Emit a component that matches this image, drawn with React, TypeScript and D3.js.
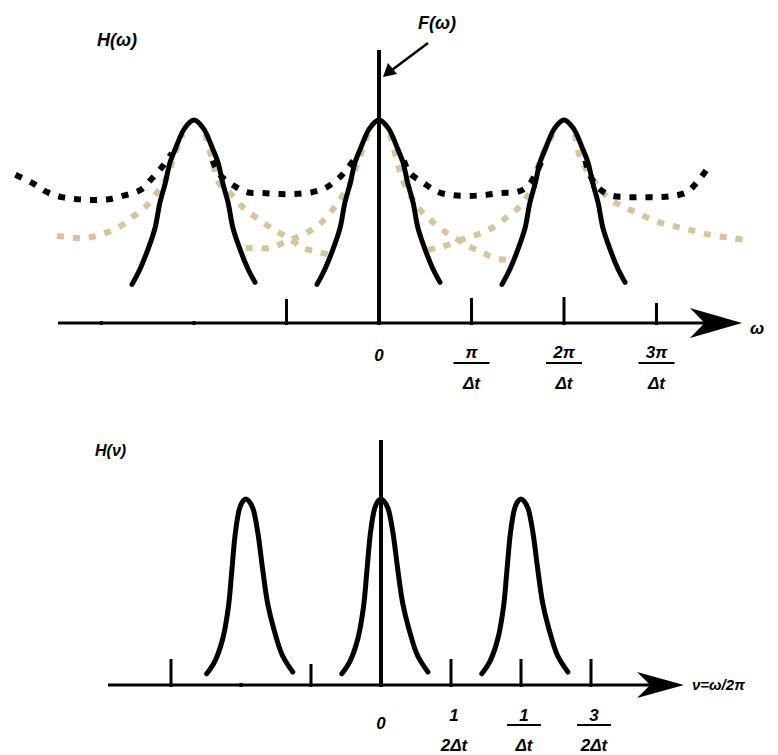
import React, { useRef, useEffect } from "react";
import * as d3 from "d3";

// ---- data ----
// top panel: x in units of pi/Δt, height relative to peak
const topTicks = [-3, -2, -1, 1, 2, 3];
const topTickLen = [2, 2, 24, 25, 26, 20];
const topPeakCenters = [-2, 0, 2];
const topPeakD = [-0.67, -0.58, -0.5, -0.42, -0.37, -0.31, -0.26, -0.2, -0.1, 0, 0.1, 0.2, 0.26, 0.31, 0.37, 0.42, 0.5, 0.58, 0.66];
const topPeakH = [0.19, 0.27, 0.36, 0.47, 0.59, 0.69, 0.79, 0.86, 0.96, 1, 0.96, 0.86, 0.79, 0.69, 0.59, 0.47, 0.36, 0.27, 0.2];

// black dotted (periodic sum), one array per piece between the peaks
const black1 = [[-3.93, 0.73], [-3.75, 0.69], [-3.59, 0.645], [-3.43, 0.62], [-3.26, 0.61], [-3.09, 0.606], [-2.92, 0.61], [-2.74, 0.63], [-2.58, 0.655], [-2.45, 0.714], [-2.33, 0.778], [-2.24, 0.837]];
const black2 = [[-1.8, 0.8], [-1.72, 0.73], [-1.58, 0.68], [-1.43, 0.645], [-1.25, 0.64], [-1.07, 0.635], [-0.91, 0.635], [-0.72, 0.645], [-0.58, 0.665], [-0.42, 0.72], [-0.31, 0.78], [-0.23, 0.83]];
const black3 = [[0.27, 0.8], [0.33, 0.74], [0.48, 0.69], [0.64, 0.645], [0.79, 0.63], [0.96, 0.626], [1.13, 0.63], [1.31, 0.64], [1.49, 0.645], [1.6, 0.67], [1.7, 0.74], [1.76, 0.8]];
const black4 = [[2.23, 0.8], [2.28, 0.73], [2.36, 0.67], [2.5, 0.63], [2.68, 0.62], [2.86, 0.62], [3.04, 0.62], [3.18, 0.626], [3.33, 0.645], [3.45, 0.7], [3.58, 0.78]];

// tan dotted (tails of single copies)
const tan1 = [[-3.48, 0.43], [-3.32, 0.42], [-3.15, 0.42], [-2.98, 0.44], [-2.82, 0.47], [-2.67, 0.52], [-2.53, 0.57], [-2.42, 0.63], [-2.33, 0.69], [-2.26, 0.76], [-2.2, 0.84], [-2.12, 0.93]];
const tan2 = [[-1.88, 0.93], [-1.8, 0.8], [-1.73, 0.69], [-1.61, 0.64], [-1.47, 0.57], [-1.3, 0.51], [-1.14, 0.46], [-0.98, 0.42], [-0.82, 0.37], [-0.66, 0.35], [-0.53, 0.335]];
const tan3 = [[-0.12, 0.93], [-0.23, 0.79], [-0.31, 0.69], [-0.42, 0.61], [-0.55, 0.53], [-0.69, 0.47], [-0.85, 0.43], [-1.01, 0.4], [-1.17, 0.37], [-1.36, 0.37], [-1.53, 0.37]];
const tan4 = [[0.12, 0.93], [0.2, 0.79], [0.26, 0.7], [0.35, 0.62], [0.44, 0.56], [0.55, 0.51], [0.68, 0.46], [0.82, 0.42], [0.96, 0.38], [1.11, 0.35], [1.25, 0.32], [1.42, 0.31]];
const tan5 = [[1.88, 0.93], [1.74, 0.8], [1.67, 0.69], [1.6, 0.62], [1.49, 0.56], [1.38, 0.52], [1.23, 0.47], [1.09, 0.44], [0.95, 0.42], [0.78, 0.39], [0.63, 0.37], [0.52, 0.36]];
const tan6 = [[2.12, 0.93], [2.17, 0.82], [2.25, 0.75], [2.36, 0.68], [2.47, 0.62], [2.61, 0.58], [2.75, 0.55], [2.9, 0.52], [3.07, 0.49], [3.26, 0.47], [3.44, 0.45], [3.62, 0.43], [3.8, 0.42], [3.93, 0.41]];

const topNums = ["π", "2π", "3π"];
const topDen = "Δt";

// bottom panel: x in units of 1/(2Δt)
const botTicks = [-3, -2, -1, 1, 2, 3];
const botTickLen = [26, 2, 21, 26, 26, 26];
const botPeakCenters = [-1.93, 0, 2];
const botPeakD = [-0.56, -0.44, -0.33, -0.25, -0.2, -0.15, -0.09, -0.04, 0, 0.04, 0.1, 0.17, 0.24, 0.31, 0.4, 0.52, 0.67];
const botPeakH = [0.06, 0.13, 0.25, 0.42, 0.62, 0.82, 0.95, 0.99, 1, 0.99, 0.95, 0.82, 0.62, 0.44, 0.3, 0.16, 0.07];
const botNums = ["1", "1", "3"];
const botDens = ["2Δt", "Δt", "2Δt"];
const botBars = [false, true, true];

const TAN = "#d6c49f";
const FONT = "'Liberation Sans', Arial, sans-serif";

const App = () => {
  const svgRef = useRef(null);

  useEffect(() => {
    const svg = d3.select(svgRef.current);
    svg.selectAll("*").remove();

    const txt = (x, y, s, size = 17, anchor = "middle") =>
      svg
        .append("text")
        .attr("x", x)
        .attr("y", y)
        .attr("text-anchor", anchor)
        .attr("font-family", FONT)
        .attr("font-weight", "bold")
        .attr("font-style", "italic")
        .attr("font-size", size)
        .text(s);

    const arrowHead = (tipX, tipY, len, half) =>
      svg
        .append("path")
        .attr(
          "d",
          `M${tipX},${tipY} L${tipX - len},${tipY - half} L${tipX - len * 0.72},${tipY} L${tipX - len},${tipY + half} Z`
        )
        .attr("fill", "#000");

    // ---------- top panel ----------
    const xT = d3.scaleLinear().domain([0, 1]).range([379, 471.5]);
    const yT = d3.scaleLinear().domain([0, 1]).range([323, 120]);
    const lineT = d3
      .line()
      .x((d) => xT(d[0]))
      .y((d) => yT(d[1]))
      .curve(d3.curveCatmullRom.alpha(0.5));

    [tan1, tan2, tan3, tan4, tan5, tan6].forEach((seg) =>
      svg
        .append("path")
        .attr("d", lineT(seg))
        .attr("fill", "none")
        .attr("stroke", TAN)
        .attr("stroke-width", 6)
        .attr("stroke-dasharray", "7,9")
    );
    [black1, black2, black3, black4].forEach((seg) =>
      svg
        .append("path")
        .attr("d", lineT(seg))
        .attr("fill", "none")
        .attr("stroke", "#000")
        .attr("stroke-width", 6)
        .attr("stroke-dasharray", "7,9")
    );

    topPeakCenters.forEach((c) =>
      svg
        .append("path")
        .attr("d", lineT(topPeakD.map((d, i) => [c + d, topPeakH[i]])))
        .attr("fill", "none")
        .attr("stroke", "#000")
        .attr("stroke-width", 5)
        .attr("stroke-linecap", "round")
    );

    // axis
    svg.append("line").attr("x1", 58).attr("x2", 715).attr("y1", yT(0)).attr("y2", yT(0))
      .attr("stroke", "#000").attr("stroke-width", 3);
    arrowHead(742, yT(0), 52, 15);
    topTicks.forEach((t, i) =>
      svg.append("line").attr("x1", xT(t)).attr("x2", xT(t))
        .attr("y1", yT(0) + 2).attr("y2", yT(0) - topTickLen[i])
        .attr("stroke", "#000").attr("stroke-width", 3)
    );
    // F(w) spike
    svg.append("line").attr("x1", xT(0)).attr("x2", xT(0)).attr("y1", 50).attr("y2", yT(0) + 2)
      .attr("stroke", "#000").attr("stroke-width", 4);
    svg.append("line").attr("x1", 428).attr("y1", 43).attr("x2", 392).attr("y2", 70)
      .attr("stroke", "#000").attr("stroke-width", 2.5);
    svg.append("path").attr("d", "M383,77 L388,63 L397,74 Z").attr("fill", "#000");

    txt(97, 46, "H(ω)", 18, "start");
    txt(418, 29, "F(ω)", 18, "start");
    txt(xT(0), 361, "0");
    topNums.forEach((n, i) => {
      const x = xT(i + 1);
      txt(x, 358, n);
      svg.append("line").attr("x1", x - 18).attr("x2", x + 18).attr("y1", 363).attr("y2", 363)
        .attr("stroke", "#000").attr("stroke-width", 2);
      txt(x, 389, topDen);
    });
    txt(750, 334, "ω", 17, "start");

    // ---------- bottom panel ----------
    const xB = d3.scaleLinear().domain([0, 1]).range([381, 451]);
    const yB = d3.scaleLinear().domain([0, 1]).range([685, 499]);
    const lineB = d3
      .line()
      .x((d) => xB(d[0]))
      .y((d) => yB(d[1]))
      .curve(d3.curveCatmullRom.alpha(0.5));

    botPeakCenters.forEach((c) =>
      svg
        .append("path")
        .attr("d", lineB(botPeakD.map((d, i) => [c + d, botPeakH[i]])))
        .attr("fill", "none")
        .attr("stroke", "#000")
        .attr("stroke-width", 5)
        .attr("stroke-linecap", "round")
    );

    svg.append("line").attr("x1", 108).attr("x2", 660).attr("y1", yB(0)).attr("y2", yB(0))
      .attr("stroke", "#000").attr("stroke-width", 3);
    arrowHead(684, yB(0), 47, 13);
    botTicks.forEach((t, i) =>
      svg.append("line").attr("x1", xB(t)).attr("x2", xB(t))
        .attr("y1", yB(0) + 2).attr("y2", yB(0) - botTickLen[i])
        .attr("stroke", "#000").attr("stroke-width", 3)
    );
    svg.append("line").attr("x1", xB(0)).attr("x2", xB(0)).attr("y1", 440).attr("y2", yB(0) + 2)
      .attr("stroke", "#000").attr("stroke-width", 4);

    txt(95, 456, "H(ν)", 16, "start");
    txt(xB(0), 729, "0");
    botNums.forEach((n, i) => {
      const x = xB(i + 1) + 3;
      txt(x, 721, n);
      if (botBars[i])
        svg.append("line").attr("x1", x - 17).attr("x2", x + 17).attr("y1", 725).attr("y2", 725)
          .attr("stroke", "#000").attr("stroke-width", 2);
      txt(x, 751, botDens[i]);
    });
    txt(692, 690, "ν=ω/2π", 15, "start");
  }, []);

  return (
    <svg
      ref={svgRef}
      width={778}
      height={755}
      style={{ position: "absolute", left: 0, top: 0, background: "#fff" }}
    />
  );
};

export default App;
